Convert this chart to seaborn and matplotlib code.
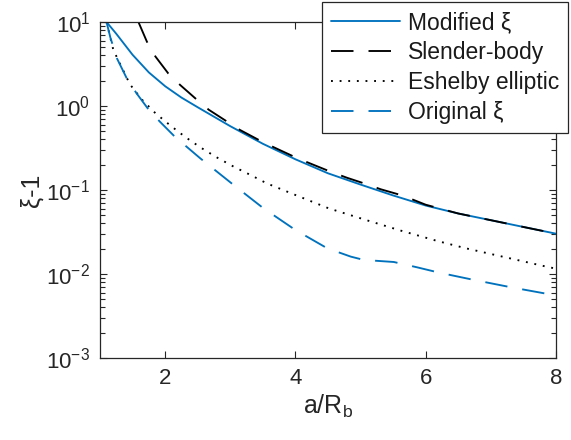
import numpy as np
import pandas as pd
import matplotlib
matplotlib.use("Agg")
import matplotlib.pyplot as plt
from matplotlib.ticker import LogLocator, NullFormatter
import seaborn as sns

# values (x = a/R_b, y = xi - 1)
mod_x = [1.10, 1.25, 1.5, 1.75, 2.0, 2.25, 2.5, 3.0, 3.5, 4.0, 4.5, 5.0, 5.5, 6.0, 6.5, 7.0, 7.5, 8.0]
mod_y = [10.0, 7.24, 4.07, 2.51, 1.72, 1.26, 0.966, 0.575, 0.355, 0.232, 0.158, 0.116, 0.0861,
         0.0653, 0.0525, 0.0437, 0.0363, 0.0302]

sb_x = [1.59, 1.72, 1.85, 2.05, 2.23, 2.46, 2.67, 2.93, 3.15, 3.46, 3.67, 3.97, 4.2, 4.54, 4.79,
        5.08, 5.31, 5.64, 6.0, 6.5, 7.0, 7.5, 8.0]
sb_y = [10.0, 5.83, 3.89, 2.43, 1.78, 1.24, 0.902, 0.668, 0.518, 0.386, 0.322, 0.251, 0.211, 0.165,
        0.140, 0.118, 0.102, 0.0861, 0.0668, 0.0525, 0.0437, 0.0363, 0.0302]

esh_x = [1.10, 1.205, 1.46, 1.64, 1.85, 2.08, 2.31, 2.54, 2.79, 3.05, 3.31, 3.56, 3.97, 4.51, 5.08,
         5.62, 6.18, 6.62, 7.9, 8.0]
esh_y = [10.0, 4.64, 1.81, 1.20, 0.822, 0.586, 0.427, 0.322, 0.245, 0.19, 0.151, 0.12, 0.0891,
         0.0605, 0.044, 0.0328, 0.0247, 0.0202, 0.012, 0.0116]

orig_x = [1.10, 1.16, 1.26, 1.41, 1.56, 1.74, 1.92, 2.15, 2.54, 3.05, 3.51, 4.0, 4.49, 4.85,
          5.05, 5.51, 5.87, 6.2, 6.74, 7.33, 7.92, 8.0]
orig_y = [10.0, 6.5, 3.69, 2.14, 1.42, 0.92, 0.65, 0.43, 0.238, 0.115, 0.0605, 0.0334, 0.0202, 0.0161,
          0.0147, 0.0139, 0.012, 0.0104, 0.0085, 0.0069, 0.0057, 0.0056]

labels = ["Modified ξ", "Slender-body", "Eshelby elliptic", "Original ξ"]

sns.set_theme(style="ticks")
plt.rcParams["font.family"] = ["Liberation Sans", "DejaVu Sans"]
plt.rcParams["mathtext.fontset"] = "custom"
plt.rcParams["mathtext.rm"] = "Liberation Sans"
plt.rcParams["mathtext.it"] = "Liberation Sans:italic"
plt.rcParams["mathtext.default"] = "regular"

txt = "#262626"
blue = "#0072BD"
lw = 1.35

fig = plt.figure(figsize=(5.71, 4.4), dpi=100)
ax = fig.add_axes([100/571, 1-358/440, 456/571, 336/440])

sns.lineplot(x=mod_x, y=mod_y, ax=ax, color=blue, lw=lw, label=labels[0])
sns.lineplot(x=sb_x, y=sb_y, ax=ax, color="black", lw=lw, linestyle=(0, (12, 8)), label=labels[1])
sns.lineplot(x=esh_x, y=esh_y, ax=ax, color="black", lw=lw, linestyle=(0, (1, 3.6)), label=labels[2])
sns.lineplot(x=orig_x, y=orig_y, ax=ax, color=blue, lw=lw, linestyle=(0, (12, 8)), label=labels[3])

ax.set_yscale("log")
ax.set_xlim(1, 8)
ax.set_ylim(1e-3, 1e1)
ax.set_xticks([2, 4, 6, 8])
ax.yaxis.set_minor_locator(LogLocator(base=10, subs=np.arange(2, 10), numticks=20))
ax.yaxis.set_minor_formatter(NullFormatter())
ax.tick_params(which="both", direction="in", top=True, right=True, colors=txt,
               labelsize=16, width=0.8)
ax.tick_params(which="major", length=5, pad=7)
ax.tick_params(axis="y", which="minor", length=3.5, width=0.8, left=True, right=True)
ax.tick_params(axis="x", which="minor", bottom=False, top=False)
for s in ax.spines.values():
    s.set_color(txt)
    s.set_linewidth(0.9)

ax.set_xlabel("a/R$_b$", fontsize=18, color=txt, labelpad=3)
ax.set_ylabel("ξ-1", fontsize=18, color=txt, labelpad=2)

leg = ax.legend(loc="upper left", bbox_to_anchor=(322/571, 1-2/440), bbox_transform=fig.transFigure,
                borderaxespad=0, fontsize=16.5, frameon=True, fancybox=False, framealpha=1,
                edgecolor=txt, handlelength=3.0, handletextpad=0.35, borderpad=0.4, labelspacing=0.3)
leg.get_frame().set_linewidth(0.9)
for t in leg.get_texts():
    t.set_color("#1a1a1a")

fig.savefig("out.png", dpi=100)
